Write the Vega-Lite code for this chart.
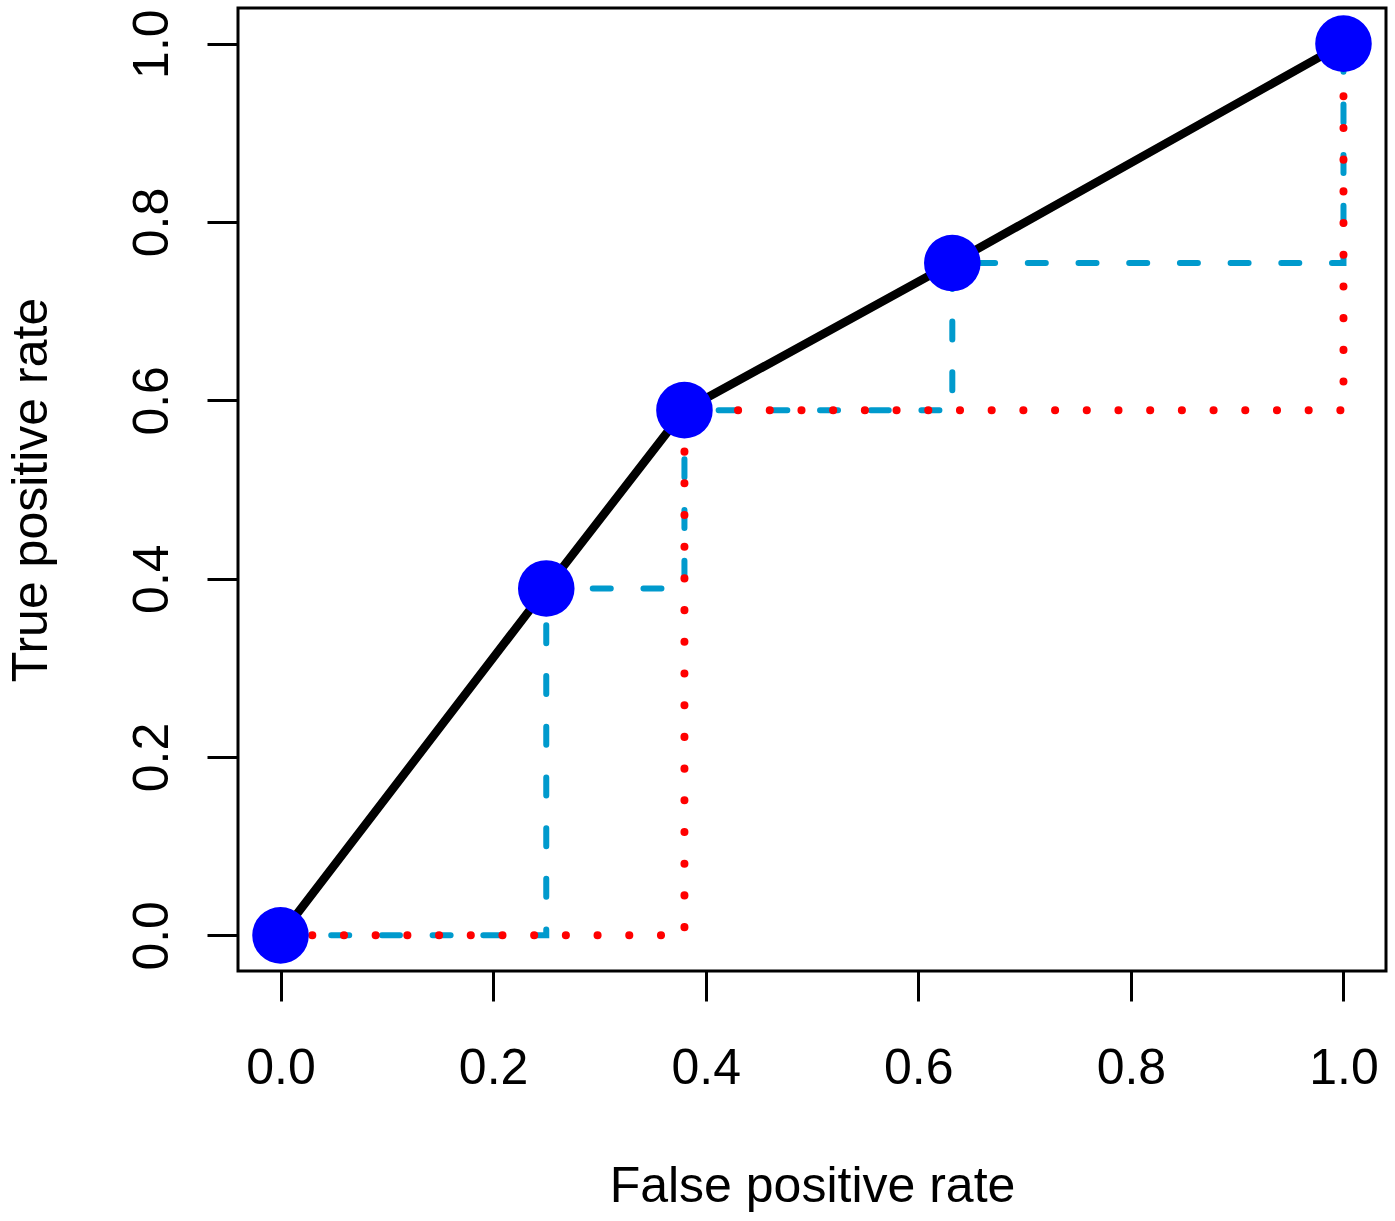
{
  "$schema": "https://vega.github.io/schema/vega-lite/v6.json",
  "width": 1148,
  "height": 963,
  "autosize": {"type": "none"},
  "padding": {"left": 238, "top": 8, "right": 9, "bottom": 250},
  "background": "white",
  "config": {
    "view": {"stroke": "black", "strokeWidth": 3},
    "font": "Liberation Sans"
  },
  "datasets": {
    "roc": [
      {"fpr": 0, "tpr": 0},
      {"fpr": 0.25, "tpr": 0.389},
      {"fpr": 0.38, "tpr": 0.589},
      {"fpr": 0.632, "tpr": 0.754},
      {"fpr": 1, "tpr": 1}
    ],
    "blue": [
      {"step": 1, "fpr": 0, "tpr": 0},
      {"step": 2, "fpr": 0.25, "tpr": 0},
      {"step": 3, "fpr": 0.25, "tpr": 0.389},
      {"step": 4, "fpr": 0.38, "tpr": 0.389},
      {"step": 5, "fpr": 0.38, "tpr": 0.589},
      {"step": 6, "fpr": 0.632, "tpr": 0.589},
      {"step": 7, "fpr": 0.632, "tpr": 0.754},
      {"step": 8, "fpr": 1, "tpr": 0.754},
      {"step": 9, "fpr": 1, "tpr": 1}
    ],
    "red": [
      {"step": 1, "fpr": 0, "tpr": 0},
      {"step": 2, "fpr": 0.38, "tpr": 0},
      {"step": 3, "fpr": 0.38, "tpr": 0.589},
      {"step": 4, "fpr": 1, "tpr": 0.589},
      {"step": 5, "fpr": 1, "tpr": 1}
    ]
  },
  "encoding": {
    "x": {
      "field": "fpr",
      "type": "quantitative",
      "scale": {"domain": [-0.04, 1.04], "nice": false, "zero": false},
      "axis": {
        "title": "False positive rate",
        "values": [0, 0.2, 0.4, 0.6, 0.8, 1],
        "format": ".1f",
        "grid": false,
        "domain": false,
        "tickSize": 30,
        "tickWidth": 3,
        "tickColor": "black",
        "labelFont": "Liberation Sans",
        "labelFontSize": 50,
        "labelColor": "black",
        "labelPadding": 82,
        "labelBaseline": "alphabetic",
        "labelFlush": false,
        "labelOverlap": false,
        "titleFont": "Liberation Sans",
        "titleFontSize": 50,
        "titleFontWeight": "normal",
        "titleColor": "black",
        "titleX": 574,
        "titleY": 230,
        "titleAlign": "center",
        "titleBaseline": "alphabetic"
      }
    },
    "y": {
      "field": "tpr",
      "type": "quantitative",
      "scale": {"domain": [-0.04, 1.04], "nice": false, "zero": false},
      "axis": {
        "title": "True positive rate",
        "values": [0, 0.2, 0.4, 0.6, 0.8, 1],
        "format": ".1f",
        "grid": false,
        "domain": false,
        "tickSize": 31,
        "tickWidth": 3,
        "tickColor": "black",
        "labelFont": "Liberation Sans",
        "labelFontSize": 50,
        "labelColor": "black",
        "labelAngle": -90,
        "labelAlign": "center",
        "labelBaseline": "alphabetic",
        "labelPadding": 40,
        "labelFlush": false,
        "labelOverlap": false,
        "titleFont": "Liberation Sans",
        "titleFontSize": 50,
        "titleFontWeight": "normal",
        "titleColor": "black",
        "titleAngle": -90,
        "titleX": -192,
        "titleY": 481.5,
        "titleAlign": "center",
        "titleBaseline": "alphabetic"
      }
    }
  },
  "layer": [
    {
      "data": {"name": "blue"},
      "mark": {"type": "line", "color": "#009ACD", "strokeWidth": 6, "strokeDash": [18, 32.7], "strokeCap": "round"},
      "encoding": {"order": {"field": "step", "type": "quantitative"}}
    },
    {
      "data": {"name": "red"},
      "mark": {"type": "line", "color": "#FF0000", "strokeWidth": 8, "strokeDash": [0.1, 31.6], "strokeCap": "round"},
      "encoding": {"order": {"field": "step", "type": "quantitative"}}
    },
    {
      "data": {"name": "roc"},
      "mark": {"type": "line", "color": "black", "strokeWidth": 8.5},
      "encoding": {"order": {"field": "fpr", "type": "quantitative"}}
    },
    {
      "data": {"name": "roc"},
      "mark": {"type": "point", "shape": "circle", "filled": true, "size": 3200, "color": "#0000FF", "opacity": 1, "strokeWidth": 0}
    }
  ]
}
